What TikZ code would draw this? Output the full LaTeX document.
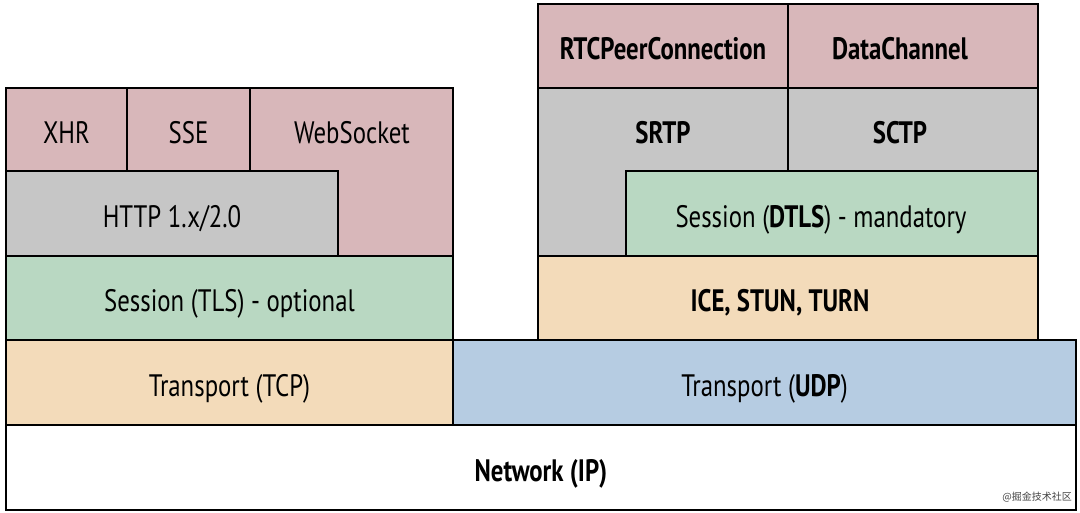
\documentclass[tikz,border=0pt]{standalone}
\usepackage{fontspec}
\setmainfont[FakeStretch=0.8]{PT Sans}
\newfontfamily\cjk{Noto Sans CJK SC}
\definecolor{pinkc}{HTML}{D8B7BA}
\definecolor{grayc}{HTML}{C6C6C6}
\definecolor{greenc}{HTML}{B9D8C2}
\definecolor{peachc}{HTML}{F3DBBA}
\definecolor{bluec}{HTML}{B6CCE2}
\definecolor{wmgray}{HTML}{444444}
\begin{document}
\begin{tikzpicture}[x=1pt,y=-1pt,
  box/.style={draw=black, line width=2.8pt, inner sep=0pt, font=\fontsize{31}{36}\selectfont, text height=28pt, text depth=0pt},
  shapeL/.style={draw=black, line width=2.8pt},
  lbl/.style={inner sep=0pt, font=\fontsize{31}{36}\selectfont, text height=28pt, text depth=0pt}]
\useasboundingbox (0,0) rectangle (1080,513);
% left stack
\node[box, fill=pinkc, minimum width=121pt, minimum height=83pt] (xhr) at (66.5,129.5) {XHR};
\node[box, fill=pinkc, minimum width=123pt, minimum height=83pt] (sse) at (188.5,129.5) {SSE};
\filldraw[shapeL, fill=pinkc] (250,88) -- (453,88) -- (453,256) -- (338,256) -- (338,171) -- (250,171) -- cycle;
\node[lbl] (ws) at (352,130) {WebSocket};
\node[box, fill=grayc, minimum width=332pt, minimum height=85pt] (http) at (172,213.5) {HTTP 1.x/2.0};
\node[box, fill=greenc, minimum width=447pt, minimum height=84pt] (tls) at (229.5,298) {Session (TLS) - optional};
\node[box, fill=peachc, minimum width=447pt, minimum height=85pt] (tcp) at (229.5,382.5) {Transport (TCP)};
% right stack
\node[box, fill=pinkc, minimum width=250pt, minimum height=84pt] (rtc) at (663,46) {\bfseries RTCPeerConnection};
\node[box, fill=pinkc, minimum width=250pt, minimum height=84pt,
  label={[lbl, xshift=-13pt]center:\bfseries DataChannel}] (dc) at (913,46) {};
\filldraw[shapeL, fill=grayc] (538,88) -- (788,88) -- (788,171) -- (626,171) -- (626,256) -- (538,256) -- cycle;
\node[lbl] (srtp) at (663,130) {\bfseries SRTP};
\node[box, fill=grayc, minimum width=250pt, minimum height=83pt,
  label={[lbl, xshift=-13pt]center:\bfseries SCTP}] (sctp) at (913,129.5) {};
\node[box, fill=greenc, minimum width=412pt, minimum height=85pt,
  label={[lbl, xshift=-11pt]center:Session (\textbf{DTLS}) - mandatory}] (dtls) at (832,213.5) {};
\node[box, fill=peachc, minimum width=500pt, minimum height=84pt,
  label={[lbl, xshift=-8pt]center:\bfseries ICE, STUN, TURN}] (ice) at (788,298) {};
% bottom
\node[box, fill=bluec, minimum width=623pt, minimum height=85pt] (udp) at (764.5,382.5) {Transport (\textbf{UDP})};
\node[box, fill=white, minimum width=1070pt, minimum height=85pt] (ip) at (541,467.5) {\bfseries Network (IP)};
\node[anchor=east, inner sep=0pt, text=wmgray, font=\cjk\fontsize{10}{11}\selectfont] (wm) at (1072,497) {@掘金技术社区};
\end{tikzpicture}
\end{document}
